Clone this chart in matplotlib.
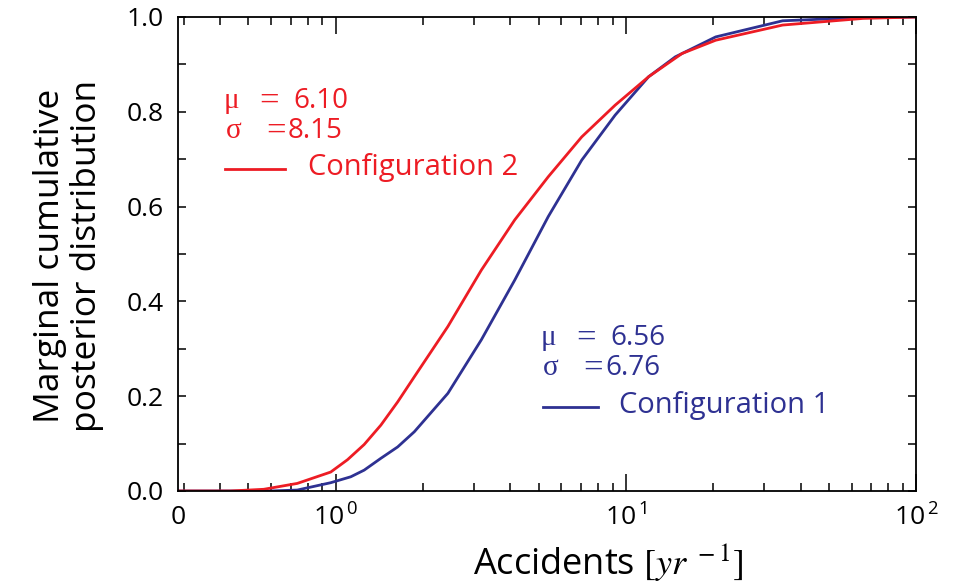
import matplotlib
matplotlib.use("Agg")
import matplotlib.pyplot as plt
from matplotlib.lines import Line2D
from matplotlib.ticker import FixedLocator, NullFormatter

plt.rcParams['font.family'] = ['Open Sans', 'DejaVu Sans']
plt.rcParams['mathtext.fontset'] = 'custom'
plt.rcParams['mathtext.rm'] = 'Open Sans'
plt.rcParams['mathtext.it'] = 'Open Sans:italic'

# Configuration 1 (blue)
acc_1 = [0.286, 0.596, 0.737, 0.961, 1.127, 1.253, 1.431, 1.635, 1.866, 2.435,
         3.176, 4.140, 5.402, 7.044, 9.184, 11.98, 14.81, 20.4, 34.7, 65.6, 100]
cdf_1 = [0.0, 0.0, 0.002, 0.0175, 0.030, 0.044, 0.069, 0.093, 0.125, 0.206,
         0.319, 0.445, 0.579, 0.698, 0.793, 0.874, 0.916, 0.958, 0.992, 0.999, 1.0]

# Configuration 2 (red)
acc_2 = [0.286, 0.433, 0.565, 0.737, 0.961, 1.098, 1.253, 1.431, 1.635, 1.866,
         2.435, 3.176, 4.140, 5.402, 7.044, 9.184, 11.98, 15.62, 20.4, 34.7, 65.6, 100]
cdf_2 = [0.0, 0.0, 0.0036, 0.016, 0.040, 0.066, 0.098, 0.139, 0.188, 0.241,
         0.347, 0.466, 0.572, 0.663, 0.747, 0.814, 0.874, 0.923, 0.951, 0.983, 0.997, 1.0]

stats_1 = ('6.56', '6.76')
stats_2 = ('6.10', '8.15')

red = '#ed1c24'
blue = '#2e3192'

W, H = 966, 584
fig = plt.figure(figsize=(W / 100, H / 100), dpi=100)
ax = fig.add_axes([178 / W, 1 - 491 / H, (916 - 178) / W, (491 - 17) / H])

ax.plot(acc_1, cdf_1, color=blue, lw=2.0)
ax.plot(acc_2, cdf_2, color=red, lw=2.0)

ax.set_xscale('log')
ax.set_xlim(0.286, 100)
ax.set_ylim(0, 1)

# x ticks: "0" at the left edge, then decades
ax.xaxis.set_major_locator(FixedLocator([0.286, 1, 10, 100]))
ax.set_xticklabels(['0', '10$^{\\,0}$', '10$^{\\,1}$', '10$^{\\,2}$'])
minor_x = [0.3, 0.4, 0.5, 0.6, 0.7, 0.8, 0.9] + list(range(2, 10)) + [10 * k for k in range(2, 10)]
ax.xaxis.set_minor_locator(FixedLocator(minor_x))
ax.xaxis.set_minor_formatter(NullFormatter())

ax.set_yticks([0, 0.2, 0.4, 0.6, 0.8, 1.0])
ax.set_yticklabels(['0.0', '0.2', '0.4', '0.6', '0.8', '1.0'])
ax.set_yticks([0.1, 0.3, 0.5, 0.7, 0.9], minor=True)

ax.tick_params(axis='both', which='both', direction='in', top=True, right=True,
               labelsize=19, width=1.1, color='black')
ax.tick_params(axis='x', which='major', length=12, pad=10)
ax.tick_params(axis='x', which='minor', length=6)
ax.tick_params(axis='y', which='both', length=6, pad=10)
ax.xaxis.get_major_ticks()[0].tick1line.set_visible(False)
ax.xaxis.get_major_ticks()[0].tick2line.set_visible(False)
for s in ax.spines.values():
    s.set_linewidth(1.3)

ax.set_xlabel(r'Accidents $[\mathit{yr}^{\ -1}]$', fontsize=26,
              math_fontfamily='stix')
ax.xaxis.set_label_coords(0.583, -0.105)
ax.set_ylabel('Marginal cumulative\nposterior distribution', fontsize=25.5,
              linespacing=1.12)
ax.yaxis.set_label_coords(-0.1, 0.495)


def fx(px):
    return px / W


def fy(py):
    return 1 - py / H


def stat_block(x, y, color, mu, sigma):
    # greek letters and "=" upright in a serif face, numbers in sans
    serif = dict(color=color, fontsize=21, va='center', family=['Liberation Serif'])
    eq = dict(color=color, fontsize=25, va='center', family=['Liberation Serif'])
    plain = dict(color=color, fontsize=20, va='center')
    fig.text(fx(x), fy(y), '\u03bc', **serif)
    fig.text(fx(x + 35), fy(y + 1), '=', **eq)
    fig.text(fx(x + 69), fy(y), mu, **plain)
    fig.text(fx(x + 2), fy(y + 30), '\u03c3', **serif)
    fig.text(fx(x + 42), fy(y + 31), '=', **eq)
    fig.text(fx(x + 64), fy(y + 30), sigma, **plain)


# configuration 2 (red)
stat_block(224, 101, red, *stats_2)
fig.add_artist(Line2D([fx(225), fx(285)], [fy(169), fy(169)], color=red, lw=2.0))
fig.text(fx(308), fy(167), 'Configuration 2', color=red, fontsize=21, va='center')

# configuration 1 (blue)
stat_block(541, 338, blue, *stats_1)
fig.add_artist(Line2D([fx(543), fx(598)], [fy(407), fy(407)], color=blue, lw=2.0))
fig.text(fx(619), fy(405), 'Configuration 1', color=blue, fontsize=21, va='center')

fig.savefig('out.png', dpi=100)
